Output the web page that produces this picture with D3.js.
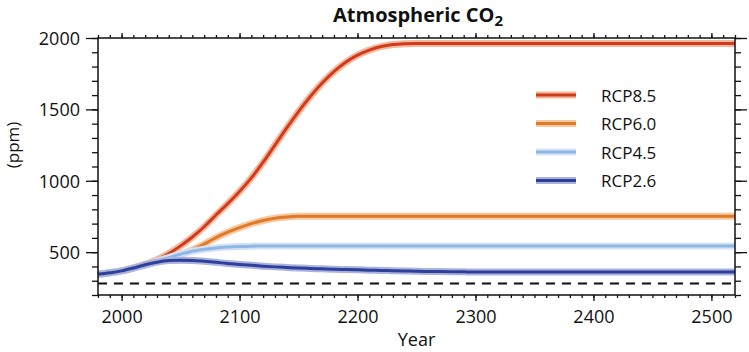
<!DOCTYPE html>
<html>
<head>
<meta charset="utf-8">
<script src="https://cdn.jsdelivr.net/npm/d3@7"></script>
<style>
  html, body { margin: 0; padding: 0; background: #fff; }
  svg { display: block; }
  text { font-family: "Open Sans", "Noto Sans", sans-serif; fill: #111; }
</style>
</head>
<body>
<svg id="chart" width="749" height="352"></svg>
<script>
// ---- data ----
const years = [1980, 1990, 2000, 2010, 2020, 2030, 2040, 2050, 2060, 2070, 2080, 2090, 2100,
               2110, 2120, 2130, 2140, 2150, 2160, 2170, 2180, 2190, 2200, 2210, 2220, 2230,
               2240, 2250, 2260, 2270, 2280, 2290, 2300, 2400, 2500, 2520];
const rcp85 = [345, 356, 369, 390, 414, 447, 490, 544, 606, 678, 760, 840, 925,
               1020, 1130, 1250, 1370, 1485, 1590, 1685, 1765, 1830, 1880, 1915, 1940, 1954,
               1960, 1962, 1962, 1962, 1962, 1962, 1962, 1962, 1962, 1962];
const rcp60 = [345, 356, 369, 389, 411, 434, 458, 484, 516, 556, 602, 640, 672,
               700, 722, 738, 747, 751, 752, 752, 752, 752, 752, 752, 752, 752,
               752, 752, 752, 752, 752, 752, 752, 752, 752, 752];
const rcp45 = [345, 356, 369, 389, 411, 436, 462, 486, 506, 520, 530, 536, 540,
               542, 543, 543, 543, 543, 543, 543, 543, 543, 543, 543, 543, 543,
               543, 543, 543, 543, 543, 543, 543, 543, 543, 543];
const rcp26 = [345, 356, 369, 389, 412, 430, 441, 444, 442, 436, 429, 421, 414,
               408, 402, 397, 393, 389, 386, 383, 380, 378, 376, 374, 372, 370,
               368, 366, 365, 364, 363, 362, 361, 361, 361, 361];
const seriesNames = ["RCP8.5", "RCP6.0", "RCP4.5", "RCP2.6"];
const seriesValues = [rcp85, rcp60, rcp45, rcp26];
const preindustrial = 280;
const xMajorTicks = [2000, 2100, 2200, 2300, 2400, 2500];
const yMajorTicks = [500, 1000, 1500, 2000];
const titleMain = "Atmospheric CO";
const titleSub = "2";
const xLabel = "Year";
const yLabel = "(ppm)";

// ---- styles ----
const coreColors = ["#d13b1d", "#e17a27", "#8fb7e3", "#2f3f9c"];
const haloColors = ["#f4b89c", "#f6c9a3", "#d3e3f5", "#a9b3dc"];

const svg = d3.select("#chart");
svg.append("rect").attr("width", 749).attr("height", 352).attr("fill", "#fff");

const L = 98, R = 735, T = 38, B = 295;
const x = d3.scaleLinear().domain([1980, 2520]).range([L, R]);
const y = d3.scaleLinear().domain([200, 2000]).range([B, T]);

const xMinor = d3.range(1980, 2521, 10);
const yMinor = d3.range(200, 2001, 100);

// preindustrial dashed line
svg.append("line")
  .attr("x1", x(1980)).attr("x2", x(2520))
  .attr("y1", y(preindustrial)).attr("y2", y(preindustrial))
  .attr("stroke", "#111").attr("stroke-width", 2)
  .attr("stroke-dasharray", "9,7");

// series
const line = d3.line().x((d, i) => x(years[i])).y(d => y(d)).curve(d3.curveMonotoneX);
seriesValues.forEach((vals, k) => {
  svg.append("path").attr("d", line(vals)).attr("fill", "none")
    .attr("stroke", haloColors[k]).attr("stroke-width", 7).attr("stroke-linejoin", "round");
  svg.append("path").attr("d", line(vals)).attr("fill", "none")
    .attr("stroke", coreColors[k]).attr("stroke-width", 3).attr("stroke-linejoin", "round");
});

// axes
function styleAxis(g) {
  g.select(".domain").remove();
  g.selectAll(".tick line").attr("stroke", "#111").attr("stroke-width", 1.3);
}
// bottom
svg.append("g").attr("transform", `translate(0,${B})`)
  .call(d3.axisBottom(x).tickValues(xMinor).tickSize(3).tickFormat(""))
  .call(styleAxis);
const gb = svg.append("g").attr("transform", `translate(0,${B})`)
  .call(d3.axisBottom(x).tickValues(xMajorTicks).tickSize(6).tickFormat(d3.format("d")))
  .call(styleAxis);
gb.selectAll(".tick text").attr("y", 28).attr("dy", 0)
  .style("font-size", "18px").attr("fill", "#111");
// top
svg.append("g").attr("transform", `translate(0,${T})`)
  .call(d3.axisTop(x).tickValues(xMinor).tickSize(3).tickFormat(""))
  .call(styleAxis);
svg.append("g").attr("transform", `translate(0,${T})`)
  .call(d3.axisTop(x).tickValues(xMajorTicks).tickSize(5).tickFormat(""))
  .call(styleAxis);
// left
svg.append("g").attr("transform", `translate(${L},0)`)
  .call(d3.axisLeft(y).tickValues(yMinor).tickSize(6).tickFormat(""))
  .call(styleAxis);
const gl = svg.append("g").attr("transform", `translate(${L},0)`)
  .call(d3.axisLeft(y).tickValues(yMajorTicks).tickSize(12).tickPadding(6).tickFormat(d3.format("d")))
  .call(styleAxis);
gl.selectAll(".tick text").style("font-size", "18px").attr("fill", "#111").attr("dy", "0.35em");
// right
svg.append("g").attr("transform", `translate(${R},0)`)
  .call(d3.axisRight(y).tickValues(yMinor).tickSize(6).tickFormat(""))
  .call(styleAxis);
svg.append("g").attr("transform", `translate(${R},0)`)
  .call(d3.axisRight(y).tickValues(yMajorTicks).tickSize(12).tickFormat(""))
  .call(styleAxis);

// frame
svg.append("rect").attr("x", L).attr("y", T).attr("width", R - L).attr("height", B - T)
  .attr("fill", "none").attr("stroke", "#111").attr("stroke-width", 1.5);

// title
const title = svg.append("text").attr("x", 418).attr("y", 21.5).attr("text-anchor", "middle")
  .style("font-size", "20px").style("font-weight", "bold");
title.append("tspan").text(titleMain);
title.append("tspan").attr("dy", 4).style("font-size", "15px").text(titleSub);

// axis labels
svg.append("text").attr("x", (L + R) / 2).attr("y", 346).attr("text-anchor", "middle")
  .style("font-size", "18px").text(xLabel);
svg.append("text").attr("transform", "translate(19,145) rotate(-90)").attr("text-anchor", "middle")
  .style("font-size", "17px").text(yLabel);

// legend
const legY0 = 95, legDy = 28.5;
seriesNames.forEach((name, k) => {
  const yy = legY0 + k * legDy;
  svg.append("line").attr("x1", 536).attr("x2", 576).attr("y1", yy).attr("y2", yy)
    .attr("stroke", haloColors[k]).attr("stroke-width", 7);
  svg.append("line").attr("x1", 536).attr("x2", 576).attr("y1", yy).attr("y2", yy)
    .attr("stroke", coreColors[k]).attr("stroke-width", 3);
  svg.append("text").attr("x", 601).attr("y", yy + 6.5)
    .style("font-size", "17px").text(name);
});
</script>
</body>
</html>
